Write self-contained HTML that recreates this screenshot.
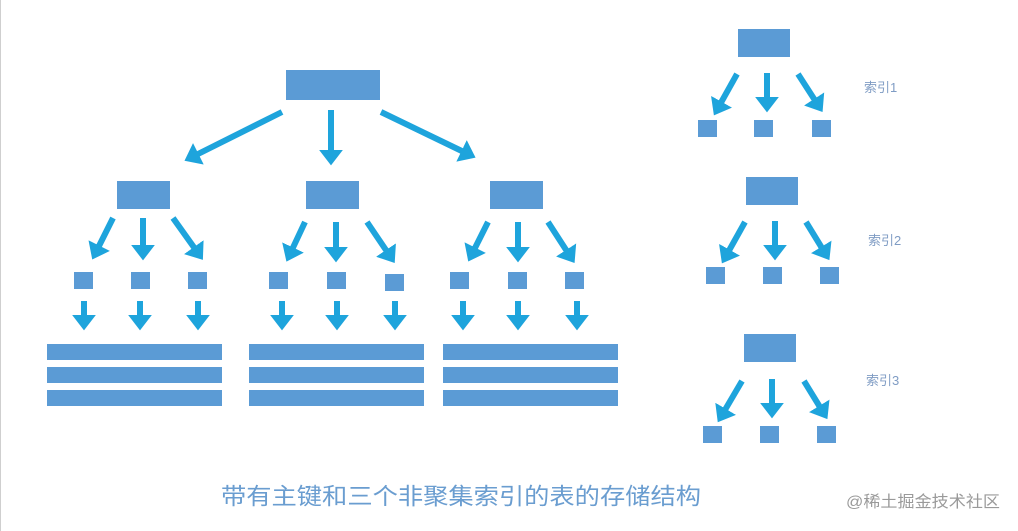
<!DOCTYPE html>
<html><head><meta charset="utf-8"><style>
html,body{margin:0;padding:0;background:#fff;}
svg{display:block;}
</style></head><body>
<svg width="1018" height="531" viewBox="0 0 1018 531" xmlns="http://www.w3.org/2000/svg">
<defs>
<marker id="a" markerWidth="4" markerHeight="4" refX="1.2" refY="2" orient="auto" markerUnits="strokeWidth">
<path d="M0,0 L2.6,2 L0,4 z" fill="#1ea4dc"/>
</marker>
</defs>
<rect x="0" y="0" width="1018" height="531" fill="#fff"/>
<line x1="0.5" y1="0" x2="0.5" y2="531" stroke="#cfcfcf"/>
<g fill="#5b9bd5">
<rect x="286" y="70" width="94" height="30"/>
<rect x="117" y="181" width="53" height="28"/>
<rect x="306" y="181" width="53" height="28"/>
<rect x="490" y="181" width="53" height="28"/>
<rect x="74" y="272" width="19" height="17"/><rect x="131" y="272" width="19" height="17"/><rect x="188" y="272" width="19" height="17"/>
<rect x="269" y="272" width="19" height="17"/><rect x="327" y="272" width="19" height="17"/><rect x="385" y="274" width="19" height="17"/>
<rect x="450" y="272" width="19" height="17"/><rect x="508" y="272" width="19" height="17"/><rect x="565" y="272" width="19" height="17"/>
<rect x="47" y="344" width="175" height="16"/><rect x="47" y="367" width="175" height="16"/><rect x="47" y="390" width="175" height="16"/>
<rect x="249" y="344" width="175" height="16"/><rect x="249" y="367" width="175" height="16"/><rect x="249" y="390" width="175" height="16"/>
<rect x="443" y="344" width="175" height="16"/><rect x="443" y="367" width="175" height="16"/><rect x="443" y="390" width="175" height="16"/>
<rect x="738" y="29" width="52" height="28"/>
<rect x="698" y="120" width="19" height="17"/><rect x="754" y="120" width="19" height="17"/><rect x="812" y="120" width="19" height="17"/>
<rect x="746" y="177" width="52" height="28"/>
<rect x="706" y="267" width="19" height="17"/><rect x="763" y="267" width="19" height="17"/><rect x="820" y="267" width="19" height="17"/>
<rect x="744" y="334" width="52" height="28"/>
<rect x="703" y="426" width="19" height="17"/><rect x="760" y="426" width="19" height="17"/><rect x="817" y="426" width="19" height="17"/>
</g>
<g stroke="#1ea4dc" stroke-width="6" marker-end="url(#a)" fill="none">
<line x1="282" y1="112" x2="192" y2="157"/>
<line x1="331" y1="110" x2="331" y2="157"/>
<line x1="381" y1="112" x2="468" y2="154"/>
<line x1="113" y1="218" x2="96" y2="252"/><line x1="143" y1="218" x2="143" y2="252"/><line x1="173" y1="218" x2="198" y2="253"/>
<line x1="305" y1="222" x2="290" y2="254"/><line x1="336" y1="222" x2="336" y2="254"/><line x1="367" y1="222" x2="390" y2="256"/>
<line x1="488" y1="222" x2="472" y2="254"/><line x1="518" y1="222" x2="518" y2="254"/><line x1="548" y1="222" x2="570" y2="256"/>
<g>
<line x1="84" y1="301" x2="84" y2="322"/><line x1="140" y1="301" x2="140" y2="322"/><line x1="198" y1="301" x2="198" y2="322"/>
<line x1="282" y1="301" x2="282" y2="322"/><line x1="337" y1="301" x2="337" y2="322"/><line x1="395" y1="301" x2="395" y2="322"/>
<line x1="463" y1="301" x2="463" y2="322"/><line x1="518" y1="301" x2="518" y2="322"/><line x1="577" y1="301" x2="577" y2="322"/>
</g>
<line x1="737" y1="74" x2="718" y2="108"/><line x1="767" y1="73" x2="767" y2="104"/><line x1="798" y1="74" x2="818" y2="105"/>
<line x1="745" y1="222" x2="726" y2="256"/><line x1="775" y1="221" x2="775" y2="252"/><line x1="806" y1="222" x2="825" y2="253"/>
<line x1="742" y1="381" x2="722" y2="415"/><line x1="772" y1="379" x2="772" y2="410"/><line x1="804" y1="381" x2="823" y2="412"/>
</g>
<g font-family="Liberation Sans, Noto Sans CJK SC, sans-serif" fill="#7f9cc4" font-size="13">
<text x="864" y="92">索引1</text>
<text x="868" y="245">索引2</text>
<text x="866" y="385">索引3</text>
</g>
<text x="221" y="504" font-family="Liberation Sans, Noto Sans CJK SC, sans-serif" font-size="23" fill="#6a9dd0" textLength="480" lengthAdjust="spacingAndGlyphs">带有主键和三个非聚集索引的表的存储结构</text>
<text x="846" y="507" font-family="Liberation Sans, Noto Sans CJK SC, sans-serif" font-size="16" fill="#9a9a9a" textLength="154" lengthAdjust="spacingAndGlyphs">@稀土掘金技术社区</text>
</svg>
</body></html>
